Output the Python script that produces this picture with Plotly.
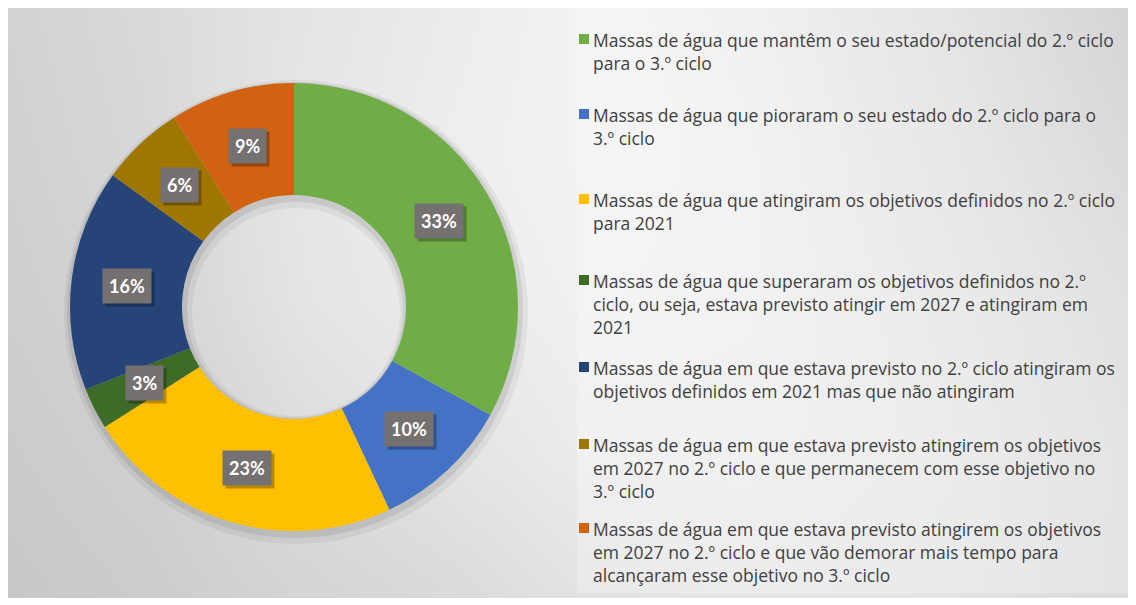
import numpy as np
import plotly.graph_objects as go

# ── Data ──────────────────────────────────────────────────────────────────────
labels = [
    "Massas de água que mantêm o seu estado/potencial do 2.º ciclo<br>para o 3.º ciclo",
    "Massas de água que pioraram o seu estado do 2.º ciclo para o<br>3.º ciclo",
    "Massas de água que atingiram os objetivos definidos no 2.º ciclo<br>para 2021",
    "Massas de água que superaram os objetivos definidos no 2.º<br>ciclo, ou seja, estava previsto atingir em 2027 e atingiram em<br>2021",
    "Massas de água em que estava previsto no 2.º ciclo atingiram os<br>objetivos definidos em 2021 mas que não atingiram",
    "Massas de água em que estava previsto atingirem os objetivos<br>em 2027 no 2.º ciclo e que permanecem com esse objetivo no<br>3.º ciclo",
    "Massas de água em que estava previsto atingirem os objetivos<br>em 2027 no 2.º ciclo e que vão demorar mais tempo para<br>alcançaram esse objetivo no 3.º ciclo",
]
values = [33, 10, 23, 3, 16, 6, 9]
colors = ["#70AD47", "#4472C4", "#FFC000", "#3F6B29", "#264478", "#9E7600", "#D06212"]

# ── Layout constants (figure pixels; page adds an 8px body margin) ────────────
W, H = 1128, 597
CX, CY, R = 286, 299, 224
HOLE = 0.5
LEGEND_Y = [30, 105, 190, 271, 358, 435, 519]   # centre of first line per entry
SQ_X = 571
TXT_X = 583
TEXT_COLOR = "#404040"
FONT = "Open Sans"
LABEL_FONT = "Lato"


def dom_x(x0, x1):
    return [max(0, x0 / W), min(1, x1 / W)]


def dom_y(y0, y1):
    return [max(0, 1 - y1 / H), min(1, 1 - y0 / H)]


fig = go.Figure()

# ── Background gradient (hidden xy axes mapped 1:1 to pixels) ─────────────────
bg_x = [0, 142, 292, 442, 572, 742, 942, 1128]
bg_y = [0, 142, 292, 442, 590]
bg_z = [
    [210, 218, 228, 236, 242, 236, 220, 198],
    [208, 216, 230, 238, 242, 238, 224, 206],
    [206, 212, 228, 236, 240, 238, 228, 214],
    [203, 208, 220, 228, 236, 236, 230, 218],
    [200, 204, 212, 218, 226, 230, 228, 218],
]
fig.add_trace(go.Heatmap(
    x=bg_x, y=bg_y, z=bg_z, zsmooth="best",
    colorscale=[[0, "rgb(0,0,0)"], [1, "rgb(255,255,255)"]],
    zmin=0, zmax=255, showscale=False, hoverinfo="skip",
))

# ── Soft shadow rings under the donut ─────────────────────────────────────────
for grow, dx, dy, alpha in [(8, 2, 5, 0.05), (4, 1, 3, 0.08)]:
    rs = R + grow
    fig.add_trace(go.Pie(
        values=[1], marker=dict(colors=[f"rgba(0,0,0,{alpha})"], line=dict(width=0)),
        hole=(R * HOLE - grow) / rs, textinfo="none", hoverinfo="skip",
        showlegend=False, sort=False,
        domain=dict(x=dom_x(CX + dx - rs, CX + dx + rs), y=dom_y(CY + dy - rs, CY + dy + rs)),
    ))

# ── Donut ─────────────────────────────────────────────────────────────────────
fig.add_trace(go.Pie(
    labels=labels, values=values, hole=HOLE, sort=False,
    direction="clockwise", rotation=0,
    marker=dict(colors=colors, line=dict(width=0)),
    textinfo="none", showlegend=False,
    domain=dict(x=dom_x(CX - R, CX + R), y=dom_y(CY - R, CY + R)),
))

# ── Data labels: grey boxes at mid-angle / mid-ring ──────────────────────────
total = float(sum(values))
cum = np.cumsum([0] + values[:-1])
r_mid = R * (1 + HOLE) / 2
for v, c in zip(values, cum):
    ang = np.deg2rad((c + v / 2) / total * 360)
    x = CX + r_mid * np.sin(ang)
    y = CY - r_mid * np.cos(ang)
    txt = f"{v / total * 100:.0f}%"
    # shadow
    fig.add_annotation(
        x=x, y=y, xref="x", yref="y", text=f"<b>{txt}</b>", showarrow=False,
        font=dict(family=LABEL_FONT, size=18, color="rgba(0,0,0,0)"),
        bgcolor="rgba(0,0,0,0.28)", borderpad=6, xshift=3, yshift=-3,
    )
    fig.add_annotation(
        x=x, y=y, xref="x", yref="y", text=f"<b>{txt}</b>", showarrow=False,
        font=dict(family=LABEL_FONT, size=18, color="white"),
        bgcolor="#767171", borderpad=6,
    )

# lighter legend panel
fig.add_shape(type="rect", xref="x", yref="y", x0=569, x1=1128, y0=-1, y1=585,
              fillcolor="rgba(255,255,255,0.25)", line=dict(width=0), layer="above")

# ── Legend (manual, to match the uneven spacing) ─────────────────────────────
for lab, col, ly in zip(labels, colors, LEGEND_Y):
    fig.add_shape(type="rect", xref="x", yref="y",
                  x0=SQ_X, x1=SQ_X + 10, y0=ly - 4, y1=ly + 6,
                  fillcolor=col, line=dict(width=0), layer="above")
    fig.add_annotation(
        x=TXT_X, y=ly - 12, xref="x", yref="y", text=lab, showarrow=False,
        xanchor="left", yanchor="top", align="left",
        font=dict(family=FONT, size=17.5, color=TEXT_COLOR),
    )

fig.update_layout(
    width=W, height=H,
    margin=dict(l=0, r=0, t=0, b=0),
    paper_bgcolor="white",
    plot_bgcolor="white",
    showlegend=False,
    xaxis=dict(domain=[0, 1], range=[0, W], visible=False, fixedrange=True),
    yaxis=dict(domain=dom_y(0, 590), range=[590, 0], visible=False, fixedrange=True),
)

fig.write_html("out.html")
